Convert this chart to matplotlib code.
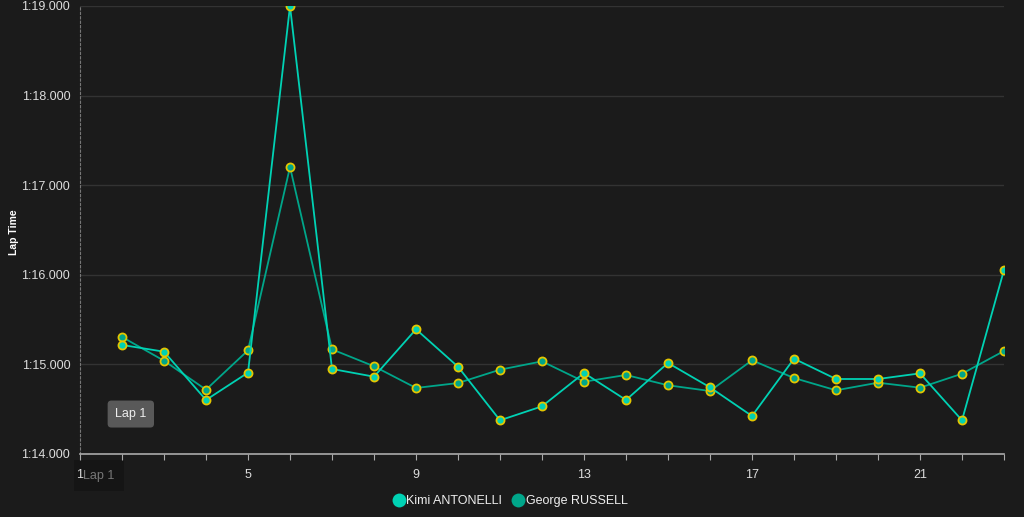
import matplotlib
matplotlib.use("Agg")
import matplotlib.pyplot as plt
from matplotlib.ticker import FuncFormatter, MultipleLocator

plt.rcParams['font.family'] = ['Liberation Sans', 'DejaVu Sans']

laps = list(range(2, 24))
# lap times in seconds
antonelli = [75.217, 75.142, 74.603, 74.908, 79.000, 74.949, 74.863, 75.392, 74.974, 74.376,
             74.532, 74.904, 74.603, 75.016, 74.744, 74.424, 75.064, 74.837, 74.837, 74.900,
             74.376, 76.054]
russell = [75.306, 75.041, 74.718, 75.157, 77.203, 75.168, 74.979, 74.737, 74.792, 74.941,
           75.034, 74.807, 74.882, 74.767, 74.703, 75.046, 74.848, 74.711, 74.796, 74.740,
           74.896, 75.150]
x_ticks = [1, 5, 9, 13, 17, 21]

bg = '#1b1b1b'
c_ant = '#00d2b4'
c_rus = '#00a68a'
c_edge = '#e3c600'

fig = plt.figure(figsize=(10.24, 5.17), dpi=100, facecolor=bg)
ax = fig.add_axes([80/1024, 63/517, 924/1024, 448/517], facecolor=bg)

ax.plot(laps, russell, color=c_rus, lw=1.3, marker='o', ms=5.8,
        mfc=c_rus, mec=c_edge, mew=1.3, zorder=3)
ax.plot(laps, antonelli, color=c_ant, lw=1.3, marker='o', ms=5.8,
        mfc=c_ant, mec=c_edge, mew=1.3, zorder=4)

ax.set_xlim(1, 23)
ax.set_ylim(74, 79)

def fmt(v, pos):
    m = int(v // 60)
    s = v - m * 60
    return f"{m}:{s:06.3f}"

ax.yaxis.set_major_locator(MultipleLocator(1))
ax.yaxis.set_major_formatter(FuncFormatter(fmt))
ax.set_xticks(range(1, 24))
ax.set_xticklabels([str(i) if i in x_ticks else '' for i in range(1, 24)])
ax.grid(axis='y', color='#333333', lw=1)
ax.set_axisbelow(True)

for s in ['top', 'right']:
    ax.spines[s].set_visible(False)
ax.spines['left'].set_color('#777777')
ax.spines['left'].set_linestyle((0, (2, 2)))
ax.spines['bottom'].set_color('#aaaaaa')
ax.spines['bottom'].set_linewidth(1.2)

ax.tick_params(axis='y', length=0, colors='#dddddd', labelsize=9, pad=7)
ax.tick_params(axis='x', length=4, color='#aaaaaa', colors='#dddddd', labelsize=9, pad=7)
fig.text(14/1024, 1 - 232/517, 'Lap Time', color='white', fontsize=7.5, fontweight='bold',
         rotation=90, ha='center', va='center')

# tooltip and crosshair label
ax.text(2.21, 74.446, 'Lap 1', color='#eeeeee', fontsize=9, ha='center', va='center',
        bbox=dict(boxstyle='round,pad=0.6,rounding_size=0.3', fc='#595959', ec='none'), zorder=6)
ax.text(1.45, 73.76, 'Lap 1', color='#777777', fontsize=9, ha='center', va='center',
        bbox=dict(boxstyle='square,pad=0.75', fc='#151515', ec='none'), zorder=0.2, clip_on=False)

# legend
h1 = plt.Line2D([], [], ls='none', marker='o', ms=10, mfc=c_ant, mec='none')
h2 = plt.Line2D([], [], ls='none', marker='o', ms=10, mfc=c_rus, mec='none')
fig.legend([h1, h2], ['Kimi ANTONELLI', 'George RUSSELL'], loc='center',
           bbox_to_anchor=(510/1024, 1 - 501/517), ncol=2, frameon=False,
           labelcolor='#eeeeee', fontsize=9, handletextpad=0.1, columnspacing=0.8,
           handlelength=1.0)

fig.savefig('out.png', dpi=100, facecolor=bg)
